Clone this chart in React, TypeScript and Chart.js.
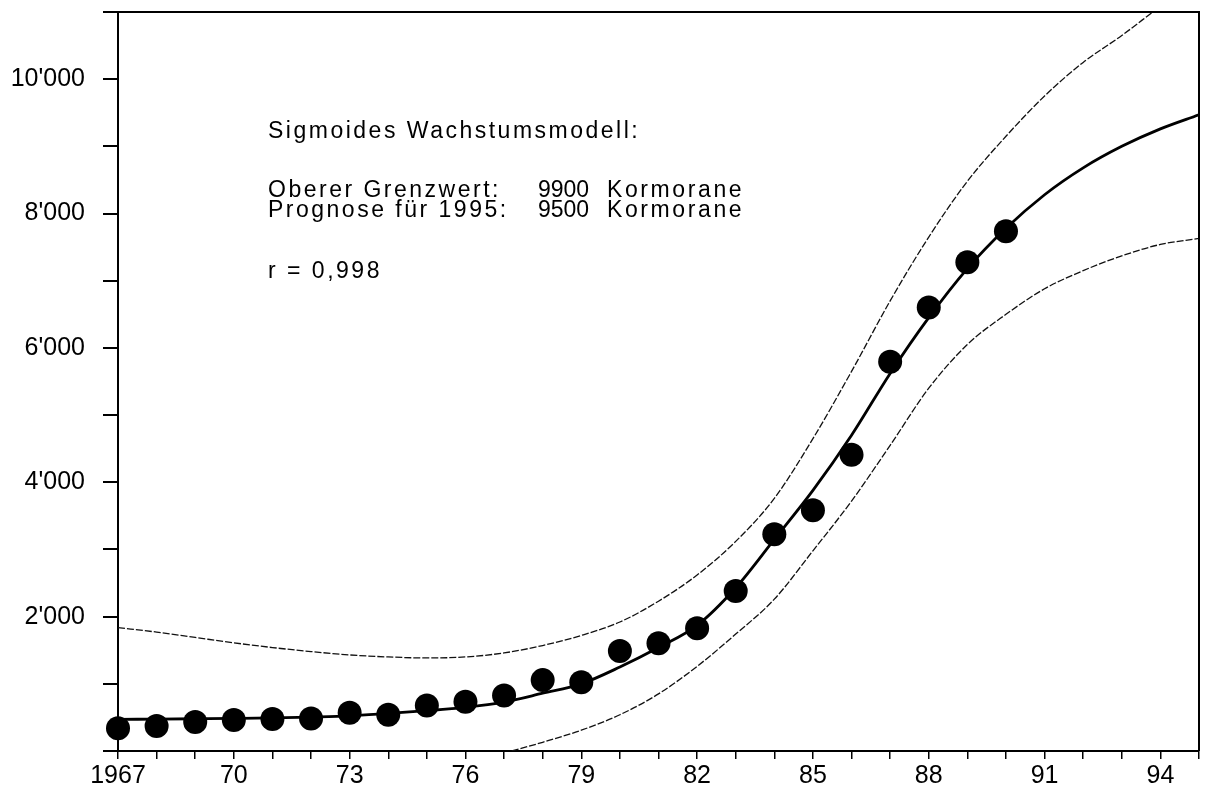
import React, { useEffect, useRef } from "react";
import { Chart, registerables } from "chart.js";

Chart.register(...registerables);

// Observed cormorant counts
const countYears = [1967, 1968, 1969, 1970, 1971, 1972, 1973, 1974, 1975, 1976, 1977, 1978, 1979, 1980, 1981, 1982, 1983, 1984, 1985, 1986, 1987, 1988, 1989, 1990];
const counts = [337, 371, 431, 460, 475, 485, 569, 540, 678, 732, 825, 1055, 1022, 1490, 1605, 1826, 2380, 3225, 3585, 4410, 5795, 6600, 7275, 7735];

// Fitted sigmoid curve
const fitYears = [1967, 1968, 1969, 1970, 1971, 1972, 1973, 1974, 1975, 1976, 1977, 1978, 1979, 1980, 1981, 1982, 1983, 1984, 1985, 1986, 1987, 1988, 1989, 1990, 1991, 1992, 1993, 1994, 1995];
const fitValues = [470, 475, 480, 485, 492, 505, 523, 560, 600, 650, 728, 860, 1000, 1250, 1540, 1870, 2430, 3150, 3880, 4700, 5620, 6450, 7180, 7780, 8280, 8680, 9000, 9260, 9470];

// Upper confidence band
const upperYears = [1967, 1968, 1969, 1970, 1971, 1972, 1973, 1974, 1975, 1976, 1977, 1978, 1979, 1980, 1981, 1982, 1983, 1984, 1985, 1986, 1987, 1988, 1989, 1990, 1991, 1992, 1993, 1993.8];
const upperValues = [1837, 1770, 1690, 1610, 1540, 1480, 1430, 1400, 1385, 1400, 1460, 1570, 1720, 1920, 2230, 2620, 3120, 3760, 4650, 5650, 6700, 7650, 8480, 9150, 9750, 10250, 10650, 11000];

// Lower confidence band
const lowerYears = [1977.2, 1978, 1979, 1980, 1981, 1982, 1983, 1984, 1985, 1986, 1987, 1988, 1989, 1990, 1991, 1992, 1993, 1994, 1995];
const lowerValues = [0, 130, 310, 540, 850, 1260, 1740, 2260, 2980, 3720, 4550, 5400, 6050, 6500, 6880, 7150, 7370, 7540, 7630];

// Axis labelling
const xLabelStep = 3;
const xFirstYear = 1967;
const xLastYear = 1995;
const yMax = 11000;
const yStep = 1000;
const yLabelStep = 2000;

// Annotation text
const annotationLabels = ["Sigmoides Wachstumsmodell:", "Oberer Grenzwert:", "Prognose für 1995:", "r = 0,998"];
const annotationNumbers = ["", "9900", "9500", ""];
const annotationUnits = ["", "Kormorane", "Kormorane", ""];

const pts = (xs: number[], ys: number[]) => xs.map((x, i) => ({ x, y: ys[i] }));

const FONT = '"Liberation Sans", Arial, Helvetica, sans-serif';

const framePlugin = {
  id: "frame",
  afterDraw(chart: any) {
    const { ctx, chartArea } = chart;
    const { left, top, right, bottom } = chartArea;
    ctx.save();
    ctx.strokeStyle = "#000";
    ctx.lineWidth = 2;
    ctx.beginPath();
    ctx.moveTo(left, top);
    ctx.lineTo(right, top);
    ctx.lineTo(right, bottom);
    ctx.stroke();
    ctx.restore();
  },
};

const annotationPlugin = {
  id: "annotation",
  afterDraw(chart: any) {
    const { ctx, chartArea } = chart;
    ctx.save();
    ctx.fillStyle = "#000";
    ctx.font = `23px ${FONT}`;
    ctx.textBaseline = "alphabetic";
    ctx.textAlign = "left";
    const setLs = (v: string) => {
      try {
        (ctx as any).letterSpacing = v;
      } catch (e) {}
    };
    const lx = chartArea.left + 150;
    const nx = chartArea.left + 420;
    const ux = chartArea.left + 489;
    const baselines = [138, 197, 217, 278];
    annotationLabels.forEach((t, i) => {
      setLs("2.5px");
      ctx.fillText(t, lx, baselines[i]);
      if (annotationNumbers[i]) {
        setLs("0px");
        ctx.fillText(annotationNumbers[i], nx, baselines[i]);
      }
      if (annotationUnits[i]) {
        setLs("2.6px");
        ctx.fillText(annotationUnits[i], ux, baselines[i]);
      }
    });
    ctx.restore();
  },
};

export default function App() {
  const ref = useRef<HTMLCanvasElement | null>(null);

  useEffect(() => {
    if (!ref.current) return;
    const chart = new Chart(ref.current, {
      type: "line",
      data: {
        datasets: [
          {
            label: "Kormorane",
            data: pts(countYears, counts),
            showLine: false,
            pointRadius: 12,
            pointBorderWidth: 0,
            pointBackgroundColor: "#000",
            pointBorderColor: "#000",
            clip: false as any,
          },
          {
            label: "Modell",
            data: pts(fitYears, fitValues),
            borderColor: "#000",
            borderWidth: 2.8,
            pointRadius: 0,
            cubicInterpolationMode: "monotone",
          },
          {
            label: "Obere Grenze",
            data: pts(upperYears, upperValues),
            borderColor: "#111",
            borderWidth: 1.3,
            borderDash: [7, 2],
            pointRadius: 0,
            cubicInterpolationMode: "monotone",
          },
          {
            label: "Untere Grenze",
            data: pts(lowerYears, lowerValues),
            borderColor: "#111",
            borderWidth: 1.3,
            borderDash: [7, 2],
            pointRadius: 0,
            cubicInterpolationMode: "monotone",
          },
        ],
      },
      options: {
        animation: false,
        responsive: true,
        maintainAspectRatio: false,
        events: [],
        layout: { padding: { top: 10, right: 9, left: 0, bottom: 0 } },
        plugins: {
          legend: { display: false },
          tooltip: { enabled: false },
        },
        scales: {
          x: {
            type: "linear",
            min: xFirstYear,
            max: xLastYear,
            afterFit: (s: any) => {
              s.height = 40;
              s.paddingLeft = 0;
              s.paddingRight = 0;
            },
            border: { display: true, color: "#000", width: 2 },
            grid: {
              drawOnChartArea: false,
              drawTicks: true,
              tickLength: 8,
              color: "#000",
              lineWidth: 1.5,
            },
            ticks: {
              stepSize: 1,
              autoSkip: false,
              maxRotation: 0,
              minRotation: 0,
              padding: 2,
              color: "#000",
              font: { family: FONT, size: 25 },
              callback: (v: any) => {
                const n = Math.round(Number(v));
                if ((n - xFirstYear) % xLabelStep !== 0) return "";
                return n === xFirstYear ? String(n) : String(n % 100).padStart(2, "0");
              },
            },
          },
          y: {
            type: "linear",
            min: 0,
            max: yMax,
            afterFit: (s: any) => {
              s.width = 118;
              s.paddingTop = 0;
              s.paddingBottom = 0;
            },
            border: { display: true, color: "#000", width: 2 },
            grid: {
              drawOnChartArea: false,
              drawTicks: true,
              tickLength: 15,
              color: "#000",
              lineWidth: 2,
            },
            ticks: {
              stepSize: yStep,
              autoSkip: false,
              padding: 18,
              color: "#000",
              font: { family: FONT, size: 25 },
              callback: (v: any) => {
                const n = Math.round(Number(v));
                if (n === 0 || n % yLabelStep !== 0) return "";
                return `${n / 1000}'000`;
              },
            },
          },
        },
      },
      plugins: [framePlugin, annotationPlugin],
    });
    return () => chart.destroy();
  }, []);

  return (
    <div
      style={{
        position: "fixed",
        left: 0,
        top: 0,
        width: "1211px",
        height: "791px",
        background: "#fff",
      }}
    >
      <canvas ref={ref} />
    </div>
  );
}
